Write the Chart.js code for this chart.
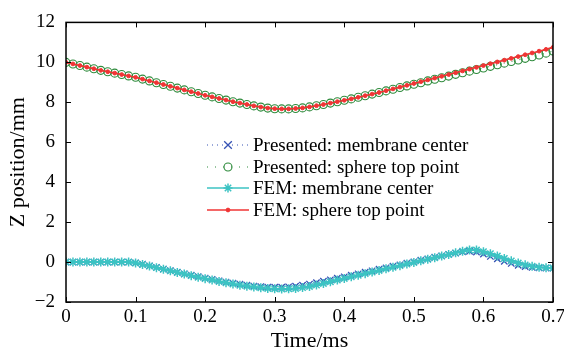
<!DOCTYPE html>
<html>
<head>
<meta charset="utf-8">
<script src="https://cdn.jsdelivr.net/npm/chart.js@4/dist/chart.umd.min.js"></script>
<style>
html,body{margin:0;padding:0;background:#fff;}
#wrap{width:564px;height:355px;position:relative;}
</style>
</head>
<body>
<div id="wrap"><canvas id="c" width="564" height="355"></canvas></div>
<script>
const times = [0.00,0.01,0.02,0.03,0.04,0.05,0.06,0.07,0.08,0.09,0.10,0.11,0.12,0.13,0.14,0.15,0.16,0.17,0.18,0.19,0.20,0.21,0.22,0.23,0.24,0.25,0.26,0.27,0.28,0.29,0.30,0.31,0.32,0.33,0.34,0.35,0.36,0.37,0.38,0.39,0.40,0.41,0.42,0.43,0.44,0.45,0.46,0.47,0.48,0.49,0.50,0.51,0.52,0.53,0.54,0.55,0.56,0.57,0.58,0.59,0.60,0.61,0.62,0.63,0.64,0.65,0.66,0.67,0.68,0.69,0.70];

const presentedMembrane = [0.00,0.00,0.00,0.00,0.00,0.00,0.00,0.00,0.00,0.00,-0.04,-0.11,-0.19,-0.27,-0.35,-0.43,-0.51,-0.59,-0.66,-0.73,-0.80,-0.87,-0.94,-1.00,-1.06,-1.11,-1.16,-1.20,-1.23,-1.25,-1.26,-1.26,-1.24,-1.21,-1.16,-1.10,-1.03,-0.96,-0.89,-0.81,-0.74,-0.66,-0.59,-0.51,-0.44,-0.36,-0.29,-0.21,-0.14,-0.06,0.01,0.09,0.16,0.24,0.31,0.38,0.45,0.51,0.54,0.50,0.40,0.28,0.16,0.04,-0.07,-0.16,-0.23,-0.27,-0.29,-0.30,-0.30];

const presentedSphere = [10.00,9.92,9.84,9.76,9.68,9.60,9.53,9.46,9.39,9.32,9.25,9.16,9.07,8.98,8.89,8.80,8.71,8.62,8.53,8.44,8.35,8.27,8.19,8.11,8.03,7.96,7.89,7.82,7.76,7.71,7.68,7.67,7.67,7.69,7.72,7.77,7.83,7.89,7.96,8.03,8.10,8.17,8.25,8.33,8.41,8.49,8.57,8.65,8.74,8.82,8.90,8.98,9.07,9.15,9.23,9.31,9.40,9.48,9.56,9.64,9.72,9.80,9.88,9.96,10.04,10.12,10.20,10.28,10.37,10.46,10.57];

const femMembrane = [0.00,0.00,0.00,0.00,0.00,0.00,0.00,0.00,0.00,0.00,-0.05,-0.12,-0.20,-0.28,-0.36,-0.44,-0.52,-0.60,-0.68,-0.76,-0.83,-0.90,-0.97,-1.04,-1.10,-1.16,-1.21,-1.25,-1.29,-1.32,-1.34,-1.35,-1.34,-1.32,-1.28,-1.22,-1.15,-1.07,-0.99,-0.90,-0.82,-0.74,-0.66,-0.58,-0.50,-0.42,-0.34,-0.26,-0.18,-0.10,-0.02,0.06,0.14,0.22,0.30,0.38,0.46,0.54,0.60,0.60,0.52,0.42,0.30,0.18,0.06,-0.05,-0.14,-0.21,-0.26,-0.28,-0.30];

const femSphere = [10.00,9.92,9.84,9.76,9.68,9.60,9.53,9.46,9.39,9.32,9.25,9.16,9.07,8.98,8.89,8.80,8.71,8.62,8.53,8.44,8.35,8.27,8.19,8.11,8.03,7.96,7.89,7.82,7.76,7.71,7.68,7.67,7.67,7.69,7.72,7.77,7.83,7.89,7.96,8.03,8.10,8.17,8.25,8.33,8.41,8.49,8.58,8.67,8.76,8.85,8.94,9.03,9.12,9.21,9.30,9.39,9.48,9.57,9.66,9.75,9.84,9.93,10.02,10.11,10.20,10.29,10.38,10.47,10.56,10.65,10.75];

const xTicks = [0, 0.1, 0.2, 0.3, 0.4, 0.5, 0.6, 0.7];
const yTicks = [-2, 0, 2, 4, 6, 8, 10, 12];
const seriesNames = ['Presented: membrane center','Presented: sphere top point','FEM: membrane center','FEM: sphere top point'];

const BLUE = '#3652b4', GREEN = '#2e8b3c', CYAN = '#3cc3c3', RED = '#f03434';
const SERIF = '"Liberation Serif", "DejaVu Serif", serif';

function pts(vals){ return times.map((t,i)=>({x:t,y:vals[i]})); }

const styles = [
  {color:BLUE, pointStyle:'crossRot', radius:4.5, lineWidth:1, dash:[1,4], pw:1.3},
  {color:GREEN, pointStyle:'circle', radius:4, lineWidth:1, dash:[1,7], pw:1.1, open:true},
  {color:CYAN, pointStyle:'star', radius:4.5, lineWidth:2, dash:[], pw:1.5},
  {color:RED, pointStyle:'circle', radius:1.9, lineWidth:1.6, dash:[], pw:1}
];
const allVals = [presentedMembrane, presentedSphere, femMembrane, femSphere];
const orders = [3,2,1,0];

const datasets = allVals.map((v,i)=>({
  label: seriesNames[i],
  data: pts(v),
  borderColor: styles[i].color,
  backgroundColor: styles[i].open ? 'rgba(0,0,0,0)' : styles[i].color,
  pointBorderColor: styles[i].color,
  pointBackgroundColor: styles[i].open ? 'rgba(0,0,0,0)' : styles[i].color,
  borderWidth: styles[i].lineWidth,
  borderDash: styles[i].dash,
  pointStyle: styles[i].pointStyle,
  pointRadius: styles[i].radius,
  pointBorderWidth: styles[i].pw,
  tension: 0,
  fill: false,
  order: orders[i]
}));

function drawMarker(ctx, st, x, y){
  ctx.save();
  ctx.strokeStyle = st.color; ctx.fillStyle = st.color; ctx.lineWidth = st.pw; ctx.setLineDash([]);
  const r = st.radius;
  ctx.beginPath();
  if (st.pointStyle === 'circle'){
    ctx.arc(x,y,r,0,Math.PI*2);
    if (!st.open) ctx.fill();
    ctx.stroke();
  } else if (st.pointStyle === 'crossRot'){
    const d = r*Math.SQRT1_2*1.2;
    ctx.moveTo(x-d,y-d); ctx.lineTo(x+d,y+d); ctx.moveTo(x+d,y-d); ctx.lineTo(x-d,y+d); ctx.stroke();
  } else if (st.pointStyle === 'star'){
    for (let k=0;k<4;k++){ const a=k*Math.PI/4; ctx.moveTo(x-r*Math.cos(a),y-r*Math.sin(a)); ctx.lineTo(x+r*Math.cos(a),y+r*Math.sin(a)); }
    ctx.stroke();
  }
  ctx.restore();
}

const framePlugin = {
  id:'frame',
  afterDraw(chart){
    const {ctx, chartArea:a, scales} = chart;
    ctx.save();
    ctx.strokeStyle = '#000'; ctx.lineWidth = 1.5; ctx.setLineDash([]);
    ctx.strokeRect(a.left, a.top, a.right-a.left, a.bottom-a.top);
    ctx.lineWidth = 1;
    const tl = 5;
    ctx.beginPath();
    xTicks.forEach(v=>{ const x = Math.round(scales.x.getPixelForValue(v))+0.5;
      ctx.moveTo(x,a.bottom); ctx.lineTo(x,a.bottom-tl); ctx.moveTo(x,a.top); ctx.lineTo(x,a.top+tl); });
    yTicks.forEach(v=>{ const y = Math.round(scales.y.getPixelForValue(v))+0.5;
      ctx.moveTo(a.left,y); ctx.lineTo(a.left+tl,y); ctx.moveTo(a.right,y); ctx.lineTo(a.right-tl,y); });
    ctx.stroke();
    // legend
    const x0 = 207, x1 = 249, xm = 228, xt = 253;
    const rows = [145, 167, 188, 210];
    ctx.font = '19px ' + SERIF; ctx.textBaseline = 'middle'; ctx.textAlign = 'left';
    styles.forEach((st,i)=>{
      const y = rows[i];
      ctx.save();
      ctx.strokeStyle = st.color; ctx.lineWidth = Math.min(st.lineWidth,1.5); ctx.setLineDash(st.dash);
      ctx.beginPath(); ctx.moveTo(x0,y); ctx.lineTo(x1,y); ctx.stroke();
      ctx.restore();
      drawMarker(ctx, st, xm, y);
      ctx.fillStyle = '#000';
      ctx.fillText(seriesNames[i], xt, y+1);
    });
    ctx.restore();
  }
};

new Chart(document.getElementById('c'), {
  type:'line',
  data:{datasets},
  options:{
    responsive:false,
    animation:false,
    events:[],
    layout:{padding:{top:16,right:0,left:0,bottom:0}},
    plugins:{legend:{display:false}, tooltip:{enabled:false}},
    scales:{
      x:{
        type:'linear', min:0, max:0.7,
        afterBuildTicks(s){ s.ticks = xTicks.map(v=>({value:v})); },
        afterFit(s){ s.height = 53; s.paddingRight = 11; s.paddingLeft = 0; },
        grid:{display:false, drawTicks:false},
        border:{display:false},
        ticks:{color:'#000', font:{family:SERIF, size:19}, padding:4, maxRotation:0,
          callback:v=>String(v)},
        title:{display:true, text:'Time/ms', color:'#000', font:{family:SERIF, size:22}, padding:{top:0,bottom:1}}
      },
      y:{
        type:'linear', min:-2, max:12,
        afterBuildTicks(s){ s.ticks = yTicks.map(v=>({value:v})); },
        afterFit(s){ s.width = 66; },
        grid:{display:false, drawTicks:false},
        border:{display:false},
        ticks:{color:'#000', font:{family:SERIF, size:19}, padding:11,
          callback:v=>String(v).replace('-','\u2212')},
        title:{display:true, text:'Z position/mm', color:'#000', font:{family:SERIF, size:22}, padding:{top:5,bottom:0}}
      }
    }
  },
  plugins:[framePlugin]
});
</script>
</body>
</html>
